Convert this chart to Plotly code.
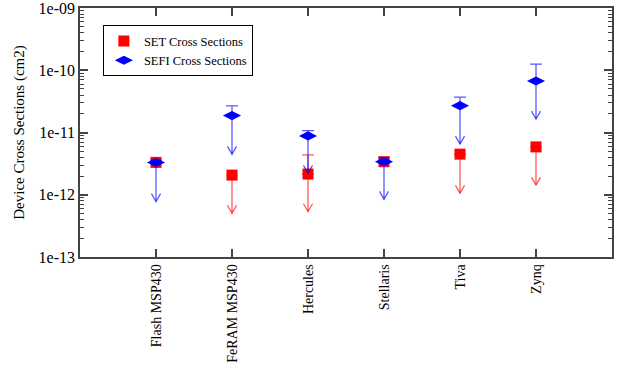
import math
import plotly.graph_objects as go

categories = ["Flash MSP430", "FeRAM MSP430", "Hercules", "Stellaris", "Tiva", "Zynq"]
cat_pos = [1, 2, 3, 4, 5, 6]

set_val = [3.31e-12, 2.07e-12, 2.15e-12, 3.4e-12, 4.49e-12, 5.87e-12]
set_hi = [3.31e-12, 2.07e-12, 4.37e-12, 3.4e-12, 4.49e-12, 5.87e-12]
set_lo = [None, 5.07e-13, 5.37e-13, None, 1.06e-12, 1.44e-12]

sefi_val = [3.3e-12, 1.87e-11, 8.82e-12, 3.4e-12, 2.7e-11, 6.73e-11]
sefi_hi = [3.6e-12, 2.67e-11, 1.07e-11, 3.9e-12, 3.69e-11, 1.25e-10]
sefi_lo = [7.8e-13, 4.49e-12, 2.22e-12, 8.5e-13, 6.56e-12, 1.65e-11]

ytick_vals = [1e-13, 1e-12, 1e-11, 1e-10, 1e-9]
ytick_text = ["1e-13", "1e-12", "1e-11", "1e-10", "1e-09"]

FONT = "Liberation Serif"
AX = "#444444"
RED = "#ff0000"
BLUE = "#0000ff"
RED_L = "rgba(255,0,0,0.65)"
BLUE_L = "rgba(0,0,255,0.65)"

# arrowhead half-width (x data units) and height (factor on log scale)
HEAD_DX = 0.06
HEAD_K = 10 ** 0.125


def arrow_xy(xs, vals, los):
    ax, ay = [], []
    for xp, v, lo in zip(xs, vals, los):
        if lo is None:
            continue
        ax += [xp, xp, None, xp - HEAD_DX, xp, xp + HEAD_DX, None]
        ay += [v, lo, None, lo * HEAD_K, lo, lo * HEAD_K, None]
    return ax, ay


fig = go.Figure()

for name, vals, his, los, col, lcol, sym, size in [
    ("SET Cross Sections", set_val, set_hi, set_lo, RED, RED_L, "square", 11),
    ("SEFI Cross Sections", sefi_val, sefi_hi, sefi_lo, BLUE, BLUE_L, "diamond-wide", 13),
]:
    lx, ly = arrow_xy(cat_pos, vals, los)
    fig.add_trace(go.Scatter(
        x=lx, y=ly, mode="lines", showlegend=False, hoverinfo="skip",
        line=dict(color=lcol, width=1.3),
    ))
    fig.add_trace(go.Scatter(
        x=cat_pos, y=vals, mode="markers", name=name,
        marker=dict(symbol=sym, size=size, color=col),
        error_y=dict(type="data", symmetric=False,
                     array=[h - v for h, v in zip(his, vals)],
                     arrayminus=[0] * len(vals),
                     color=lcol, thickness=1.3, width=6),
    ))

minor_vals = [m * 10.0 ** e for e in range(-13, -9) for m in range(2, 10)]

fig.update_layout(
    width=627, height=368,
    margin=dict(l=80, r=15, t=8, b=111),
    paper_bgcolor="white", plot_bgcolor="white",
    font=dict(family=FONT, color="black", size=14),
    showlegend=True,
    legend=dict(x=0.043, y=0.93, xanchor="left", yanchor="top",
                bordercolor="black", borderwidth=1, bgcolor="white",
                font=dict(family=FONT, size=12.5, color="black"),
                tracegroupgap=0),
    xaxis=dict(
        range=[0, 7], tickmode="array", tickvals=cat_pos, ticktext=categories,
        tickangle=-90, ticks="inside", ticklen=8, tickwidth=1.5, tickcolor=AX,
        showline=True, linecolor=AX, linewidth=1.5, mirror="ticks",
        showgrid=False, zeroline=False, automargin=False,
        ticklabeloverflow="allow",
        tickfont=dict(family=FONT, size=14, color="black"),
    ),
    yaxis=dict(
        type="log", range=[-13, -9], tickmode="array",
        tickvals=ytick_vals, ticktext=ytick_text,
        ticks="inside", ticklen=8, tickwidth=1.5, tickcolor=AX,
        showline=True, linecolor=AX, linewidth=1.5, mirror="ticks",
        showgrid=False, zeroline=False, automargin=False,
        ticklabeloverflow="allow",
        tickfont=dict(family=FONT, size=16, color="black"),
        minor=dict(tickmode="array", tickvals=minor_vals, ticks="inside",
                   ticklen=4, tickwidth=1, tickcolor=AX, showgrid=False),
        title=dict(text="Device Cross Sections (cm2)", standoff=10,
                   font=dict(family=FONT, size=15, color="black")),
    ),
)

fig.write_html("out.html")
